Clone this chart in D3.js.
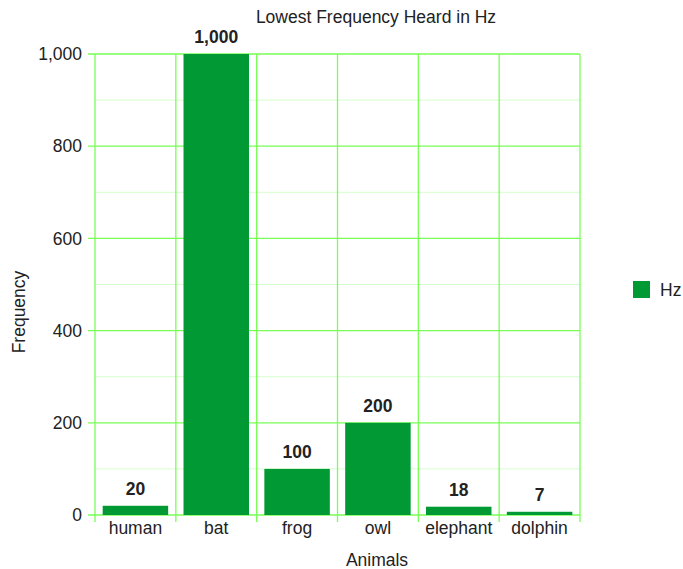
<!DOCTYPE html>
<html>
<head>
<meta charset="utf-8">
<script src="https://cdn.jsdelivr.net/npm/d3@7"></script>
<style>
  body { margin: 0; background: #fff; }
  text { font-family: "Liberation Sans", Arial, sans-serif; fill: #222; }
</style>
</head>
<body>
<div id="chart"></div>
<script>
// 数据
const animals = ["human", "bat", "frog", "owl", "elephant", "dolphin"];
const hzValues = [20, 1000, 100, 200, 18, 7];
const yTicks = [0, 200, 400, 600, 800, 1000];
const yMinor = [100, 300, 500, 700, 900];

const width = 683;
const height = 569;
const margin = {left: 95, top: 54, right: 103, bottom: 54};
const plotW = width - margin.left - margin.right;
const plotH = height - margin.top - margin.bottom;

const gridColor = "#77ff55";
const minorColor = "#d4ffcc";
const barColor = "#009933";
const fontSize = 17.5;

var svg = d3.select("#chart").append("svg")
    .attr("width", width).attr("height", height);

var g = svg.append("g")
    .attr("transform", "translate(" + margin.left + "," + margin.top + ")");

var x = d3.scaleBand().domain(animals).range([0, plotW]).paddingInner(0.19).paddingOuter(0.095);
var y = d3.scaleLinear().domain([0, 1000]).range([plotH, 0]);

var bw = x.step();
var bandEdges = d3.range(animals.length + 1).map(i => x(animals[0]) - x.step() * x.paddingOuter() + i * bw);

// 次网格线
g.append("g").selectAll("line").data(yMinor).enter().append("line")
    .attr("x1", 0).attr("x2", plotW)
    .attr("y1", d => y(d)).attr("y2", d => y(d))
    .attr("stroke", minorColor).attr("stroke-width", 1);

// 主网格线
g.append("g").selectAll("line").data(yTicks).enter().append("line")
    .attr("x1", -7).attr("x2", plotW)
    .attr("y1", d => y(d)).attr("y2", d => y(d))
    .attr("stroke", gridColor).attr("stroke-width", 1.3);

// 竖线
g.append("g").selectAll("line").data(bandEdges).enter().append("line")
    .attr("x1", d => d).attr("x2", d => d)
    .attr("y1", 0).attr("y2", plotH + 7)
    .attr("stroke", gridColor).attr("stroke-width", 1.3);

// y轴标签
g.append("g").selectAll("text").data(yTicks).enter().append("text")
    .attr("x", -13).attr("y", d => y(d))
    .attr("dy", "0.35em")
    .attr("text-anchor", "end")
    .attr("font-size", fontSize)
    .text(d => d3.format(",")(d));

// 柱子
g.append("g").selectAll("rect").data(hzValues).enter().append("rect")
    .attr("x", (d, i) => x(animals[i]))
    .attr("width", x.bandwidth())
    .attr("y", d => y(d))
    .attr("height", d => plotH - y(d))
    .attr("fill", barColor);

// 数值标签
g.append("g").selectAll("text").data(hzValues).enter().append("text")
    .attr("x", (d, i) => x(animals[i]) + x.bandwidth() / 2)
    .attr("y", d => y(d) - 11)
    .attr("text-anchor", "middle")
    .attr("font-size", fontSize)
    .attr("font-weight", "bold")
    .text(d => d3.format(",")(d));

// x轴标签
g.append("g").selectAll("text").data(animals).enter().append("text")
    .attr("x", d => x(d) + x.bandwidth() / 2)
    .attr("y", plotH + 19)
    .attr("text-anchor", "middle")
    .attr("font-size", fontSize)
    .text(d => d);

// 标题
svg.append("text")
    .attr("x", 376).attr("y", 23)
    .attr("text-anchor", "middle")
    .attr("font-size", fontSize)
    .text("Lowest Frequency Heard in Hz");

svg.append("text")
    .attr("x", 377).attr("y", 566)
    .attr("text-anchor", "middle")
    .attr("font-size", fontSize)
    .text("Animals");

svg.append("text")
    .attr("transform", "translate(25,312) rotate(-90)")
    .attr("text-anchor", "middle")
    .attr("font-size", fontSize)
    .text("Frequency");

// 图例
svg.append("rect")
    .attr("x", 633).attr("y", 281)
    .attr("width", 17).attr("height", 17)
    .attr("fill", barColor);
svg.append("text")
    .attr("x", 660).attr("y", 296)
    .attr("font-size", fontSize)
    .text("Hz");
</script>
</body>
</html>
